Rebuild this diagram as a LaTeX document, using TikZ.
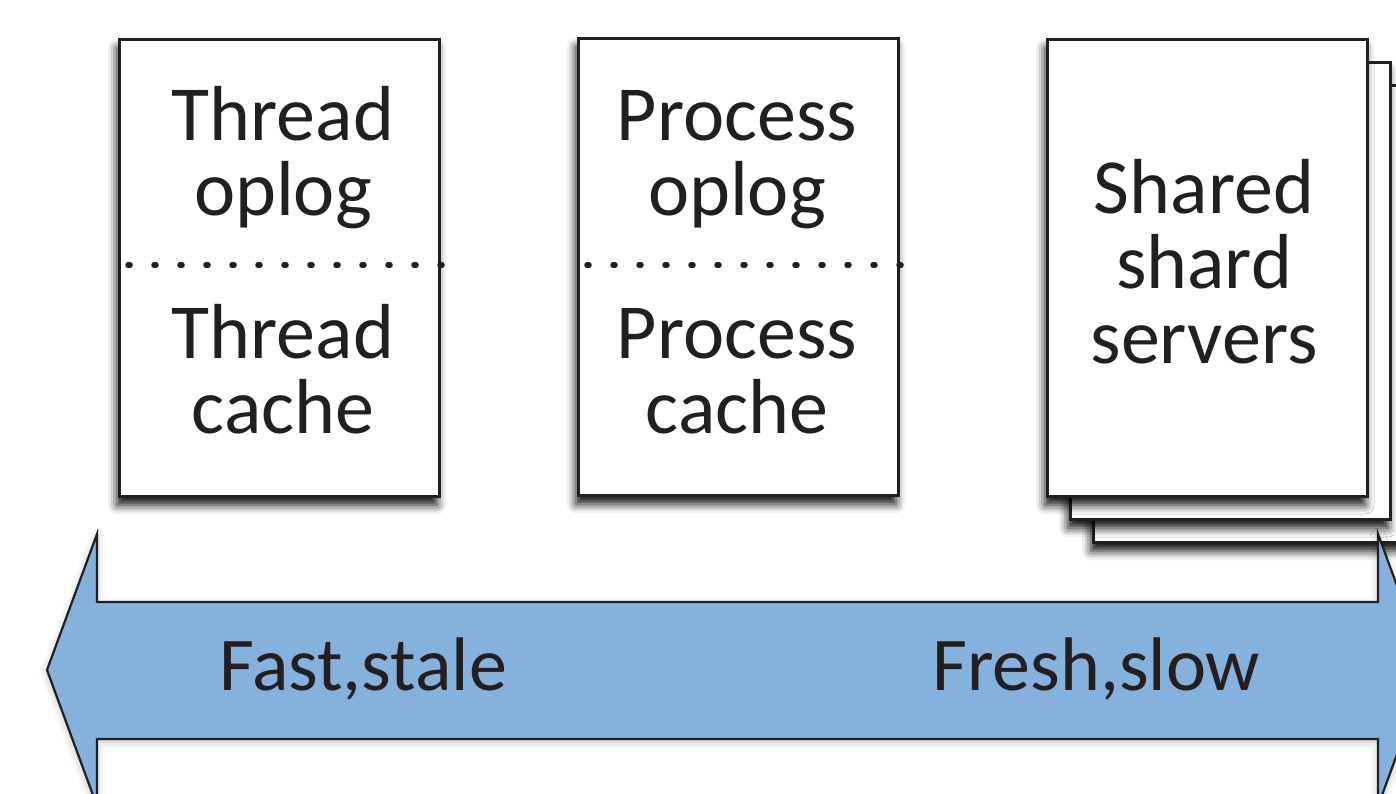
\documentclass[tikz,border=0pt]{standalone}
\usepackage{fontspec}
\setmainfont{Carlito}
\usetikzlibrary{shadows.blur}
\definecolor{arrowblue}{HTML}{87B1DD}
\definecolor{ink}{HTML}{231F20}

\begin{document}
\begin{tikzpicture}[x=1pt,y=-1pt,
  card/.style={draw=ink, line width=3pt, fill=white,
    minimum width=320pt, minimum height=457pt, inner sep=0pt,
    blur shadow={shadow xshift=-2pt, shadow yshift=-9pt,
      shadow blur radius=9pt, shadow opacity=95}},
  label/.style={font=\fontsize{78}{75}\selectfont, text=ink,
    align=center, inner sep=0pt},
  barlabel/.style={font=\fontsize{76}{75}\selectfont, text=ink,
    inner sep=0pt},
  divider/.style={draw=ink, line width=5.5pt, line cap=round,
    dash pattern=on 2pt off 24pt}]

\useasboundingbox (0,0) rectangle (1396,793);
\clip (0,0) rectangle (1396,793);

% local tiers
\node[card] (thread) at (279,267.5) {};
\node[card] (process) at (738,266.5) {};

% stack of shard servers, back to front
\node[card] (page3) at (1253,313.5) {};
\node[card] (page2) at (1230,290.5) {};
\node[card] (shared) at (1207,267.5) {};

% dotted dividers between oplog and cache
\coordinate (d1a) at (128,265);
\coordinate (d2a) at (587,265);
\draw[divider] (d1a) -- ([xshift=3pt]d1a -| thread.east);
\draw[divider] (d2a) -- ([xshift=3pt]d2a -| process.east);

% labels (anchored on the baseline of their last line)
\node[label, anchor=base] (threadop) at (283,215) {Thread\\oplog};
\node[label, anchor=base] (threadca) at (283,433) {Thread\\cache};
\node[label, anchor=base] (procop) at (737,215) {Process\\oplog};
\node[label, anchor=base] (procca) at (737,433) {Process\\cache};
\node[label, anchor=base] (shard) at (1204,363) {Shared\\shard\\servers};

% freshness / speed trade-off arrow
\path[draw=ink, line width=2.2pt, line join=miter, fill=arrowblue,
  blur shadow={shadow xshift=0pt, shadow yshift=-3pt,
    shadow blur radius=8pt, shadow opacity=25}]
  (47,670) -- (97,534) -- (97,602) -- (1378,602) -- (1378,534)
  -- (1428,670) -- (1378,806) -- (1378,739) -- (97,739) -- (97,806) -- cycle;

\node[barlabel, anchor=base west] (fast) at (219,690) {Fast,stale};
\node[barlabel, anchor=base west] (fresh) at (932,690) {Fresh,slow};
\end{tikzpicture}
\end{document}
